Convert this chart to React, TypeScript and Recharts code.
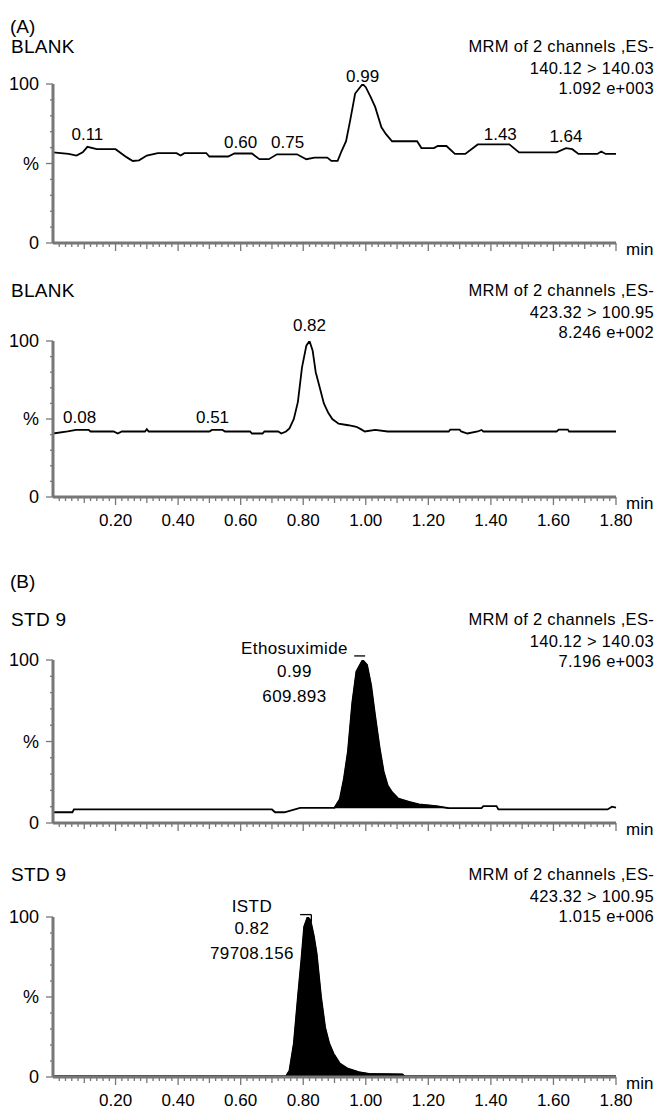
import React from 'react';
import { ComposedChart, Line, Area, XAxis, YAxis, ReferenceDot, ReferenceLine } from 'recharts';

const FONT = '"Liberation Sans", Arial, sans-serif';
const W = 655;
const H = 1108;
const PLOT_LEFT = 53;
const PLOT_RIGHT = 616;
const Y_AXIS_W = 14;
const AXIS_GREY = '#777777';

// x axis (retention time, min)
const xDomain = [0, 1.8];
const xMajorLabels = ['0.20', '0.40', '0.60', '0.80', '1.00', '1.20', '1.40', '1.60', '1.80'];
const yLabelValues = [0, 50, 100];
const yLabelTexts = ['0', '%', '100'];

// (A) BLANK, 140.12 > 140.03
const blankEthoTime = [0.0, 0.05, 0.075, 0.095, 0.11, 0.14, 0.2, 0.235, 0.255, 0.275, 0.3, 0.335, 0.395, 0.408, 0.42, 0.49, 0.5, 0.56, 0.58, 0.636, 0.66, 0.69, 0.716, 0.78, 0.81, 0.836, 0.877, 0.89, 0.91, 0.923, 0.937, 0.95, 0.966, 0.99, 1.0, 1.015, 1.03, 1.05, 1.064, 1.084, 1.164, 1.178, 1.218, 1.23, 1.258, 1.285, 1.318, 1.358, 1.459, 1.49, 1.61, 1.64, 1.66, 1.68, 1.74, 1.753, 1.767, 1.8];
const blankEthoPct = [57, 56, 55, 57, 60.5, 59, 59, 54, 51.6, 52, 55, 56.5, 56.5, 55, 56.5, 56.5, 54.4, 54.4, 56.3, 56.3, 52.7, 52.7, 55.8, 55.8, 52.7, 53.7, 53.7, 51.6, 51.6, 58, 64, 77, 94, 100, 98, 92, 85.6, 72.8, 68.6, 64, 64, 59.7, 59.7, 61, 61, 56, 56, 62, 62, 57, 57, 59.7, 59, 56, 56, 57.5, 56, 56];
const blankEthoPeakTimes = [0.11, 0.6, 0.75, 0.99, 1.43, 1.64];
const blankEthoPeakPct = [68.6, 63.3, 63.3, 105, 68.6, 67.5];
const blankEthoPeakLabels = ['0.11', '0.60', '0.75', '0.99', '1.43', '1.64'];

// (A) BLANK, 423.32 > 100.95
const blankIstdTime = [0, 0.047, 0.074, 0.114, 0.12, 0.194, 0.207, 0.22, 0.294, 0.3, 0.306, 0.5, 0.508, 0.542, 0.55, 0.63, 0.636, 0.67, 0.676, 0.72, 0.73, 0.745, 0.756, 0.77, 0.783, 0.796, 0.81, 0.82, 0.83, 0.84, 0.853, 0.866, 0.88, 0.893, 0.913, 0.944, 0.97, 0.984, 0.997, 1.03, 1.07, 1.265, 1.27, 1.3, 1.305, 1.325, 1.358, 1.37, 1.376, 1.61, 1.617, 1.646, 1.65, 1.8];
const blankIstdPct = [40.7, 42, 43, 43, 42, 42, 40.7, 42, 42, 43.5, 42, 42, 43, 43, 42, 42, 40.7, 40.7, 42, 42, 40.7, 42, 44, 50, 61, 83, 97, 100, 94, 80, 70, 60, 54, 50, 47, 46, 45, 43.5, 42, 43, 42, 42, 43.2, 43.2, 42, 40.7, 42, 43, 42, 42, 43.2, 43.2, 42, 42];
const blankIstdPeakTimes = [0.085, 0.51, 0.82];
const blankIstdPeakPct = [51.3, 51.3, 110];
const blankIstdPeakLabels = ['0.08', '0.51', '0.82'];

// (B) STD 9, 140.12 > 140.03
const stdEthoTime = [0, 0.062, 0.067, 0.7, 0.71, 0.74, 0.79, 0.9, 0.917, 0.93, 0.943, 0.957, 0.97, 0.99, 1.004, 1.017, 1.03, 1.044, 1.057, 1.07, 1.084, 1.104, 1.138, 1.17, 1.225, 1.265, 1.37, 1.376, 1.418, 1.424, 1.773, 1.787, 1.8];
const stdEthoPct = [6.6, 6.6, 8.3, 8.3, 6.6, 6.6, 9.3, 9.3, 14.6, 27, 44, 74, 93, 100, 97, 84.5, 65.5, 46.4, 31.6, 23, 18.9, 15, 13, 11.4, 10.4, 9.1, 9.1, 10.4, 10.4, 8.3, 8.3, 10, 9.5];
const stdEthoFill = [0.9, 1.265, 9];
const stdEthoNote = ['Ethosuximide', '0.99', '609.893'];

// (B) STD 9, 423.32 > 100.95
const stdIstdTime = [0, 0.745, 0.756, 0.77, 0.783, 0.794, 0.803, 0.814, 0.823, 0.834, 0.843, 0.857, 0.87, 0.883, 0.897, 0.917, 0.943, 0.977, 1.01, 1.117, 1.124, 1.8];
const stdIstdPct = [0.5, 0.5, 4, 21, 50, 73, 94, 100, 98, 88, 77, 50, 31, 21, 14.6, 8.4, 5.2, 3.1, 2, 1.7, 0.5, 0.5];
const stdIstdFill = [0.745, 1.124, 0];
const stdIstdNote = ['ISTD', '0.82', '79708.156'];

const xTicks = Array.from({ length: 90 }, (_, i) => +((i + 1) * 0.02).toFixed(2));
const yTicks = Array.from({ length: 11 }, (_, i) => i * 10);

type Panel = {
  top: number;
  bottom: number;
  titleY: number;
  title: string;
  header: string[];
  time: number[];
  pct: number[];
  showX: boolean;
  peaks?: { t: number[]; p: number[]; labels: string[] };
  fill?: number[];
  note?: { t: number; lines: string[]; offsets: number[] };
  marker?: { x1: number; x2: number; y: number; drop?: number };
};

const panels: Panel[] = [
  {
    top: 84, bottom: 243, titleY: 46, title: 'BLANK',
    header: ['MRM of 2 channels ,ES-', '140.12 > 140.03', '1.092 e+003'],
    time: blankEthoTime, pct: blankEthoPct, showX: false,
    peaks: { t: blankEthoPeakTimes, p: blankEthoPeakPct, labels: blankEthoPeakLabels },
  },
  {
    top: 341, bottom: 497, titleY: 290, title: 'BLANK',
    header: ['MRM of 2 channels ,ES-', '423.32 > 100.95', '8.246 e+002'],
    time: blankIstdTime, pct: blankIstdPct, showX: true,
    peaks: { t: blankIstdPeakTimes, p: blankIstdPeakPct, labels: blankIstdPeakLabels },
  },
  {
    top: 660, bottom: 823, titleY: 619, title: 'STD 9',
    header: ['MRM of 2 channels ,ES-', '140.12 > 140.03', '7.196 e+003'],
    time: stdEthoTime, pct: stdEthoPct, showX: false, fill: stdEthoFill,
    note: { t: 0.772, lines: stdEthoNote, offsets: [-12, 11, 36] },
    marker: { x1: 0.963, x2: 0.998, y: 102.5 },
  },
  {
    top: 917, bottom: 1077, titleY: 874, title: 'STD 9',
    header: ['MRM of 2 channels ,ES-', '423.32 > 100.95', '1.015 e+006'],
    time: stdIstdTime, pct: stdIstdPct, showX: true, fill: stdIstdFill,
    note: { t: 0.636, lines: stdIstdNote, offsets: [-11, 11, 36] },
    marker: { x1: 0.79, x2: 0.826, y: 101.5, drop: 97 },
  },
];

const XTick = (props: any) => {
  const { x, y, payload, showLabels } = props;
  const n = Math.round(payload.value * 50);
  const major = n % 10 === 0;
  const mid = n % 5 === 0;
  const len = major ? 8 : mid ? 6 : 4;
  const label = major ? xMajorLabels[n / 10 - 1] : null;
  return (
    <g>
      <line x1={x} x2={x} y1={y} y2={y + len} stroke={AXIS_GREY} strokeWidth={1.3} />
      {showLabels && label && (
        <text x={x} y={y + 23} dy="0.35em" textAnchor="middle" fontSize={17} fill="#000" fontFamily={FONT}>{label}</text>
      )}
      {n === 90 && (
        <text x={x + 10} y={y + 6} dy="0.35em" fontSize={17} fill="#000" fontFamily={FONT}>min</text>
      )}
    </g>
  );
};

const YTick = (props: any) => {
  const { x, y, payload } = props;
  const idx = yLabelValues.indexOf(payload.value);
  const len = idx >= 0 ? 7 : 3;
  return (
    <g>
      <line x1={x - len} x2={x} y1={y} y2={y} stroke={AXIS_GREY} strokeWidth={1.3} />
      {idx >= 0 && (
        <text x={x - 14} y={y} dy="0.35em" textAnchor="end" fontSize={18} fill="#000" fontFamily={FONT}>
          {yLabelTexts[idx]}
        </text>
      )}
    </g>
  );
};

const MT = 45;
const XH = 40;

function Chromatogram({ panel }: { panel: Panel }) {
  const plotH = panel.bottom - panel.top;
  const fill = panel.fill;
  const data = panel.time.map((t, i) => ({
    t,
    v: panel.pct[i],
    peak: fill && t >= fill[0] && t <= fill[1] ? panel.pct[i] : null,
  }));
  const axisLine = { stroke: AXIS_GREY, strokeWidth: 3 };
  return (
    <div style={{ position: 'absolute', left: 0, top: panel.top - MT }}>
      <ComposedChart
        width={W}
        height={plotH + MT + XH}
        data={data}
        margin={{ top: MT, right: W - PLOT_RIGHT, bottom: 0, left: PLOT_LEFT - Y_AXIS_W }}
      >
        <XAxis
          dataKey="t" type="number" domain={xDomain} ticks={xTicks} interval={0}
          height={XH} tickSize={0} tickMargin={0} tickLine={false} axisLine={axisLine}
          tick={<XTick showLabels={panel.showX} />}
        />
        <YAxis
          type="number" domain={[0, 100]} ticks={yTicks} interval={0} width={Y_AXIS_W}
          tickSize={0} tickMargin={0} tickLine={false} axisLine={axisLine}
          tick={<YTick />} allowDataOverflow
        />
        {fill && (
          <Area
            dataKey="peak" type="linear" baseValue={fill[2]} fill="#000" fillOpacity={1}
            stroke="#000" strokeWidth={1} connectNulls={false} isAnimationActive={false}
          />
        )}
        <Line dataKey="v" type="linear" stroke="#000" strokeWidth={1.8} dot={false} isAnimationActive={false} />
        {panel.peaks && panel.peaks.t.map((t, i) => (
          <ReferenceDot
            key={i} x={t} y={panel.peaks!.p[i]} r={0} ifOverflow="visible"
            shape={(p: any) => (
              <text x={p.cx} y={p.cy} dy="0.35em" textAnchor="middle" fontSize={17} fill="#000" fontFamily={FONT}>
                {panel.peaks!.labels[i]}
              </text>
            )}
          />
        ))}
        {panel.note && (
          <ReferenceDot
            x={panel.note.t} y={100} r={0} ifOverflow="visible"
            shape={(p: any) => (
              <g>
                {panel.note!.lines.map((line, i) => (
                  <text key={i} x={p.cx} y={p.cy + panel.note!.offsets[i]} dy="0.35em" textAnchor="middle"
                    fontSize={17} fill="#000" fontFamily={FONT} letterSpacing={0.4}>
                    {line}
                  </text>
                ))}
              </g>
            )}
          />
        )}
        {panel.marker && (
          <ReferenceLine
            segment={[{ x: panel.marker.x1, y: panel.marker.y }, { x: panel.marker.x2, y: panel.marker.y }]}
            stroke="#000" strokeWidth={1.3} ifOverflow="visible"
          />
        )}
        {panel.marker && panel.marker.drop !== undefined && (
          <ReferenceLine
            segment={[{ x: panel.marker.x2, y: panel.marker.y }, { x: panel.marker.x2, y: panel.marker.drop }]}
            stroke="#000" strokeWidth={1.3} ifOverflow="visible"
          />
        )}
      </ComposedChart>
    </div>
  );
}

export default function App() {
  return (
    <div style={{ position: 'absolute', left: 0, top: 0, width: W, height: H, background: '#fff', fontFamily: FONT }}>
      <svg width={W} height={H} style={{ position: 'absolute', left: 0, top: 0 }}>
        <text x={10} y={26} dy="0.35em" fontSize={19} fontFamily={FONT}>(A)</text>
        <text x={10} y={581} dy="0.35em" fontSize={19} fontFamily={FONT}>(B)</text>
        {panels.map((p, i) => (
          <g key={i}>
            <text x={11} y={p.titleY} dy="0.35em" fontSize={19} fontFamily={FONT} letterSpacing={0.3}>{p.title}</text>
            {p.header.map((h, j) => (
              <text key={j} x={654} y={p.titleY + [0, 22, 42][j]} dy="0.35em" textAnchor="end" fontSize={16.5}
                fontFamily={FONT} letterSpacing={0.3}>
                {h}
              </text>
            ))}
          </g>
        ))}
      </svg>
      {panels.map((p, i) => (
        <Chromatogram key={i} panel={p} />
      ))}
    </div>
  );
}
